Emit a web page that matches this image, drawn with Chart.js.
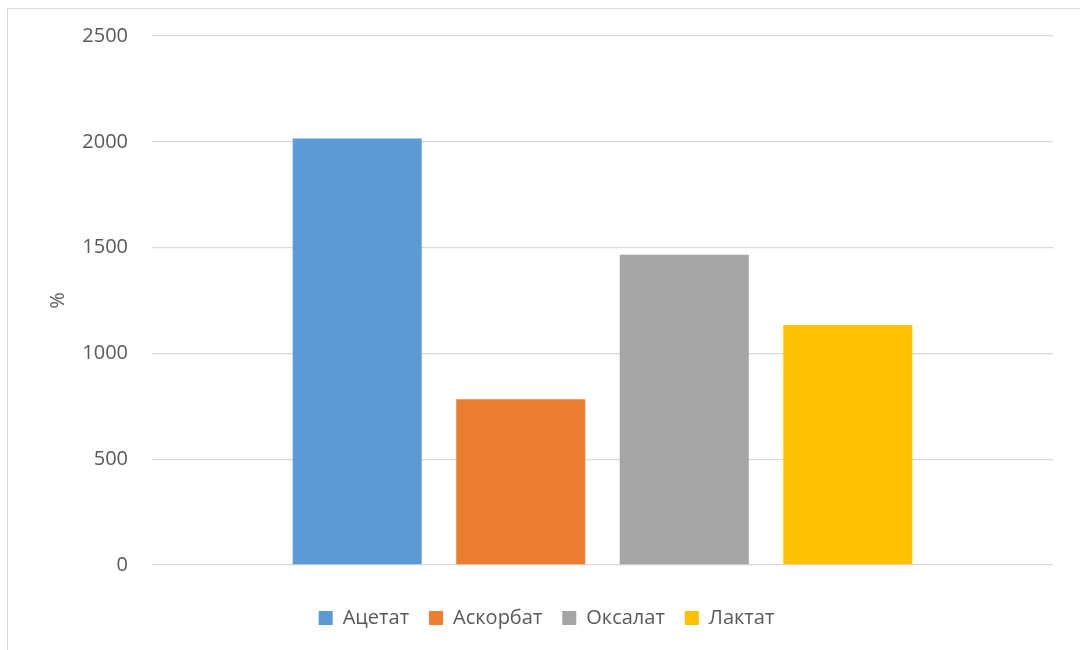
<!DOCTYPE html>
<html>
<head>
<meta charset="utf-8">
<script src="https://cdn.jsdelivr.net/npm/chart.js@4"></script>
<style>
  html, body { margin: 0; padding: 0; background: #fff; overflow: hidden; }
  .frame {
    position: absolute; left: 7px; top: 8px;
    width: 1200px; height: 800px;
    border: 1px solid #d9d9d9;
  }
  .wrap { position: absolute; left: 0; top: 0; width: 1080px; height: 650px; }
</style>
</head>
<body>
<div class="frame"></div>
<div class="wrap"><canvas id="salts"></canvas></div>
<script>
const seriesNames = ['Ацетат', 'Аскорбат', 'Оксалат', 'Лактат'];
const seriesValues = [2016, 783, 1466, 1134];
const seriesColors = ['#5B9BD5', '#ED7D31', '#A5A5A5', '#FFC000'];
const yTicks = [0, 500, 1000, 1500, 2000, 2500];

const textColor = '#595959';
const font = { family: "'Open Sans', sans-serif", size: 20 };

new Chart(document.getElementById('salts'), {
  type: 'bar',
  data: {
    labels: [''],
    datasets: seriesNames.map((name, i) => ({
      label: name,
      data: [seriesValues[i]],
      backgroundColor: seriesColors[i],
      borderWidth: 0,
      categoryPercentage: 0.726,
      barPercentage: 0.789
    }))
  },
  options: {
    responsive: true,
    maintainAspectRatio: false,
    animation: false,
    layout: { padding: { left: 40, right: 27, top: 34, bottom: 12 } },
    plugins: {
      tooltip: { enabled: false },
      legend: {
        position: 'bottom',
        labels: {
          boxWidth: 14,
          boxHeight: 14,
          padding: 20,
          color: textColor,
          font: font
        }
      }
    },
    scales: {
      x: {
        grid: { display: false },
        border: { display: false },
        ticks: { display: false },
        // empty band between the plot and the legend
        afterFit: (s) => { s.height = 23; }
      },
      y: {
        min: 0,
        max: 2500,
        afterBuildTicks: (s) => { s.ticks = yTicks.map(v => ({ value: v })); },
        afterFit: (s) => { s.width = 112; },
        border: { display: false },
        grid: { color: '#d9d9d9', lineWidth: 1.3, drawTicks: false },
        ticks: { color: textColor, font: font, padding: 24, callback: (v) => String(v) },
        title: {
          display: true,
          text: '%',
          color: textColor,
          font: font,
          padding: { top: 6, bottom: 0 }
        }
      }
    }
  }
});
</script>
</body>
</html>
